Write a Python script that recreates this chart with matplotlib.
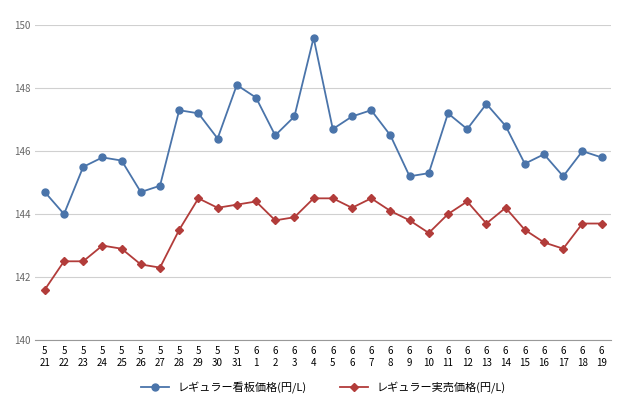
import matplotlib.pyplot as plt

# データ
months = [5] * 11 + [6] * 19
days = list(range(21, 32)) + list(range(1, 20))
labels = [f"{m}\n{d}" for m, d in zip(months, days)]
kanban = [144.7, 144.0, 145.5, 145.8, 145.7, 144.7, 144.9, 147.3, 147.2, 146.4,
          148.1, 147.7, 146.5, 147.1, 149.6, 146.7, 147.1, 147.3, 146.5, 145.2,
          145.3, 147.2, 146.7, 147.5, 146.8, 145.6, 145.9, 145.2, 146.0, 145.8]
jitsubai = [141.6, 142.5, 142.5, 143.0, 142.9, 142.4, 142.3, 143.5, 144.5, 144.2,
            144.3, 144.4, 143.8, 143.9, 144.5, 144.5, 144.2, 144.5, 144.1, 143.8,
            143.4, 144.0, 144.4, 143.7, 144.2, 143.5, 143.1, 142.9, 143.7, 143.7]

plt.rcParams["font.family"] = "Noto Sans CJK JP"
fig, ax = plt.subplots(figsize=(6.4, 4.0), dpi=100)
fig.subplots_adjust(left=0.055, right=0.955, top=0.937, bottom=0.15)

x = range(len(labels))
ax.plot(x, kanban, color="#4a74aa", marker="o", markersize=5, lw=1.3,
        label="レギュラー看板価格(円/L)")
ax.plot(x, jitsubai, color="#b23c3a", marker="D", markersize=4, lw=1.3,
        label="レギュラー実売価格(円/L)")

ax.set_ylim(140, 150)
ax.set_yticks(range(140, 151, 2))
ax.set_xlim(-0.5, len(labels) - 0.5)
ax.set_xticks(list(x))
ax.set_xticklabels(labels, fontsize=7, linespacing=1.3)
ax.tick_params(axis="y", labelsize=7, colors="#666666", length=0)
ax.tick_params(axis="x", length=0, pad=4)
ax.grid(axis="y", color="#d0d0d0", lw=0.8)
ax.set_axisbelow(True)
for s in ["top", "right", "left"]:
    ax.spines[s].set_visible(False)
ax.spines["bottom"].set_color("#999999")

ax.legend(loc="upper center", bbox_to_anchor=(0.5, -0.1), ncol=2, frameon=False,
          fontsize=8, handlelength=2.5, columnspacing=3)

fig.savefig("out.png")
